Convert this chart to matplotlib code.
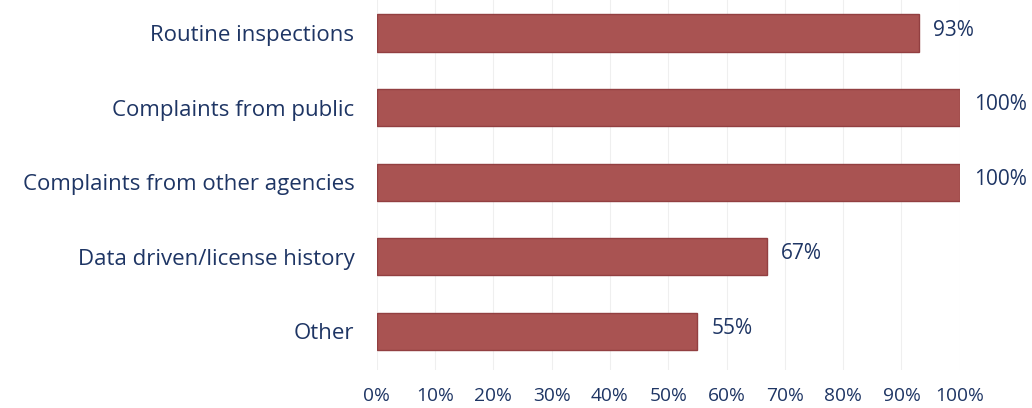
import matplotlib.pyplot as plt
from matplotlib.ticker import PercentFormatter

categories = ['Routine inspections', 'Complaints from public',
              'Complaints from other agencies', 'Data driven/license history', 'Other']
values = [93, 100, 100, 67, 55]
ticks = [0, 10, 20, 30, 40, 50, 60, 70, 80, 90, 100]

text_color = '#1e3564'
bar_color = '#a95352'

plt.rcParams['font.family'] = ['Open Sans', 'DejaVu Sans']

fig = plt.figure(figsize=(10.32, 4.08), dpi=100)
ax = fig.add_axes([0.365, 0.093, 0.565, 0.907])

y = list(range(len(categories)))
bars = ax.barh(y, values, height=0.5, color=bar_color,
               edgecolor='#923f41', linewidth=1.0, zorder=3)

for b, v in zip(bars, values):
    ax.annotate(f'{v}%', (b.get_width(), b.get_y() + b.get_height() / 2),
                xytext=(10, 2), textcoords='offset points', va='center', ha='left',
                fontsize=15, color=text_color)

ax.set_xlim(0, 100)
ax.set_ylim(4.52, -0.443)
ax.set_xticks(ticks)
ax.xaxis.set_major_formatter(PercentFormatter(decimals=0))
ax.set_yticks(y)
ax.set_yticklabels(categories)
ax.tick_params(axis='x', length=0, pad=12, labelsize=13.8, labelcolor=text_color)
ax.tick_params(axis='y', length=0, pad=16, labelsize=16, labelcolor=text_color)
ax.grid(axis='x', color='#efefef', linewidth=0.8, zorder=0)
for s in ax.spines.values():
    s.set_visible(False)

fig.savefig('out.png', dpi=100)
